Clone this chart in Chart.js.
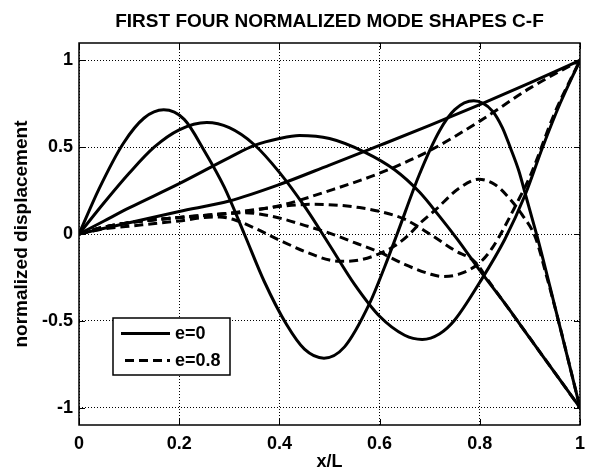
<!DOCTYPE html>
<html>
<head>
<meta charset="utf-8">
<script src="https://cdn.jsdelivr.net/npm/chart.js@4"></script>
<style>
  html, body { margin: 0; padding: 0; background: #fff; }
  #wrap { width: 593px; height: 473px; }
</style>
</head>
<body>
<div id="wrap"><canvas id="modos"></canvas></div>
<script>
// ejes y textos
const titulo = 'FIRST FOUR NORMALIZED MODE SHAPES C-F';
const xTicks = [0, 0.2, 0.4, 0.6, 0.8, 1];
const yTicks = [-1, -0.5, 0, 0.5, 1];
const legendLabels = ['e=0', 'e=0.8'];

// e=0 (lineas continuas)
const s1X = [0, 0.1, 0.2, 0.3, 0.4, 0.5, 0.6, 0.7, 0.8, 0.9, 1];
const s1Y = [0, 0.065, 0.13, 0.19, 0.285, 0.397, 0.51, 0.625, 0.745, 0.87, 1];
const s2X = [0, 0.05, 0.1, 0.2, 0.3, 0.35, 0.4, 0.44, 0.5, 0.57, 0.63, 0.68, 0.72, 0.755, 0.8, 0.85, 0.9, 0.95, 1];
const s2Y = [0, 0.075, 0.15, 0.29, 0.44, 0.51, 0.55, 0.567, 0.55, 0.472, 0.37, 0.24, 0.1, -0.03, -0.21, -0.4, -0.6, -0.8, -1];
const s3X = [0, 0.05, 0.1, 0.15, 0.2, 0.255, 0.3, 0.35, 0.4, 0.45, 0.5, 0.55, 0.6, 0.65, 0.685, 0.72, 0.75, 0.8, 0.85, 0.891, 0.925, 0.96, 1];
const s3Y = [0, 0.18, 0.35, 0.5, 0.6, 0.642, 0.612, 0.514, 0.355, 0.16, -0.063, -0.29, -0.474, -0.583, -0.607, -0.574, -0.495, -0.278, -0.03, 0.229, 0.497, 0.75, 1];
const s4X = [0, 0.04, 0.088, 0.13, 0.169, 0.21, 0.25, 0.29, 0.33, 0.37, 0.414, 0.45, 0.489, 0.53, 0.58, 0.61, 0.635, 0.679, 0.72, 0.75, 0.788, 0.825, 0.845, 0.861, 0.878, 0.891, 0.904, 0.915, 0.957, 1];
const s4Y = [0, 0.26, 0.52, 0.668, 0.715, 0.66, 0.48, 0.27, 0, -0.275, -0.52, -0.663, -0.715, -0.65, -0.4, -0.19, 0, 0.34, 0.596, 0.716, 0.767, 0.709, 0.613, 0.497, 0.363, 0.229, 0.094, -0.02, -0.5, -1];

// e=0.8 (lineas discontinuas)
const d1X = [0, 0.05, 0.1, 0.2, 0.3, 0.4, 0.5, 0.6, 0.7, 0.8, 0.9, 1];
const d1Y = [0, 0.04, 0.065, 0.095, 0.118, 0.163, 0.25, 0.35, 0.48, 0.65, 0.84, 1];
const d2X = [0, 0.05, 0.1, 0.2, 0.3, 0.35, 0.4, 0.464, 0.52, 0.56, 0.6, 0.65, 0.7, 0.75, 0.79, 0.82, 0.85, 0.9, 0.95, 1];
const d2Y = [0, 0.04, 0.065, 0.095, 0.12, 0.14, 0.158, 0.171, 0.165, 0.152, 0.13, 0.085, 0, -0.095, -0.16, -0.28, -0.4, -0.6, -0.8, -1];
const d3X = [0, 0.05, 0.1, 0.2, 0.3, 0.331, 0.36, 0.4, 0.45, 0.5, 0.55, 0.6, 0.65, 0.7, 0.725, 0.76, 0.8, 0.825, 0.878, 0.9, 0.95, 1];
const d3Y = [0, 0.04, 0.065, 0.095, 0.118, 0.123, 0.115, 0.092, 0.05, 0.005, -0.05, -0.105, -0.175, -0.23, -0.245, -0.23, -0.165, -0.08, 0.2, 0.33, 0.7, 1];
const d4X = [0, 0.05, 0.1, 0.165, 0.2, 0.25, 0.28, 0.31, 0.35, 0.4, 0.45, 0.5, 0.52, 0.56, 0.6, 0.632, 0.66, 0.68, 0.712, 0.758, 0.798, 0.83, 0.858, 0.884, 0.911, 0.934, 0.957, 1];
const d4Y = [0, 0.03, 0.045, 0.065, 0.075, 0.095, 0.098, 0.082, 0.035, -0.035, -0.1, -0.15, -0.157, -0.15, -0.113, -0.065, 0, 0.06, 0.14, 0.262, 0.315, 0.285, 0.209, 0.113, -0.02, -0.25, -0.5, -1];

const fuente = "'Liberation Sans', Arial, Helvetica, sans-serif";
const grosor = 3;
const guiones = [9, 5];

function puntos(xs, ys) {
    return xs.map((x, i) => ({ x: x, y: ys[i] }));
}

function curva(xs, ys, discontinua) {
    return {
        data: puntos(xs, ys),
        borderColor: '#000',
        borderWidth: grosor,
        borderDash: discontinua ? guiones : [],
        pointRadius: 0,
        fill: false,
        cubicInterpolationMode: 'monotone'
    };
}

// titulo, marco, marcas interiores y leyenda al estilo matlab
const marcoMatlab = {
    id: 'marcoMatlab',
    afterDatasetsDraw(chart) {
        const ctx = chart.ctx;
        const a = chart.chartArea;
        const sx = chart.scales.x;
        const sy = chart.scales.y;
        const largo = 6;
        ctx.save();

        // titulo centrado sobre el area de datos
        ctx.fillStyle = '#000';
        ctx.font = 'bold 19px ' + fuente;
        ctx.textAlign = 'center';
        ctx.textBaseline = 'alphabetic';
        ctx.fillText(titulo, (a.left + a.right) / 2, a.top - 16);

        ctx.strokeStyle = '#000';
        ctx.lineWidth = 1.5;
        ctx.setLineDash([]);
        ctx.strokeRect(a.left, a.top, a.right - a.left, a.bottom - a.top);
        ctx.lineWidth = 1;
        ctx.beginPath();
        xTicks.forEach((v) => {
            const px = Math.round(sx.getPixelForValue(v)) + 0.5;
            ctx.moveTo(px, a.bottom); ctx.lineTo(px, a.bottom - largo);
            ctx.moveTo(px, a.top); ctx.lineTo(px, a.top + largo);
        });
        yTicks.forEach((v) => {
            const py = Math.round(sy.getPixelForValue(v)) + 0.5;
            ctx.moveTo(a.left, py); ctx.lineTo(a.left + largo, py);
            ctx.moveTo(a.right, py); ctx.lineTo(a.right - largo, py);
        });
        ctx.stroke();

        // leyenda
        const bx = a.left + 34;
        const by = a.top + 275;
        const bw = 117;
        const bh = 57;
        ctx.fillStyle = '#fff';
        ctx.fillRect(bx, by, bw, bh);
        ctx.lineWidth = 1.5;
        ctx.strokeRect(bx, by, bw, bh);
        ctx.font = 'bold 18px ' + fuente;
        ctx.textBaseline = 'middle';
        ctx.textAlign = 'left';
        ctx.fillStyle = '#000';
        legendLabels.forEach((txt, i) => {
            const ly = by + 15.5 + i * 27;
            ctx.lineWidth = grosor;
            ctx.setLineDash(i === 0 ? [] : guiones);
            ctx.beginPath();
            ctx.moveTo(bx + (i === 0 ? 8 : 12), ly);
            ctx.lineTo(bx + 57, ly);
            ctx.stroke();
            ctx.setLineDash([]);
            ctx.fillText(txt, bx + 62, ly + 1);
        });
        ctx.restore();
    }
};

const ctx = document.getElementById('modos').getContext('2d');

new Chart(ctx, {
    type: 'line',
    data: {
        datasets: [
            curva(s1X, s1Y, false),
            curva(s2X, s2Y, false),
            curva(s3X, s3Y, false),
            curva(s4X, s4Y, false),
            curva(d1X, d1Y, true),
            curva(d2X, d2Y, true),
            curva(d3X, d3Y, true),
            curva(d4X, d4Y, true)
        ]
    },
    options: {
        responsive: true,
        maintainAspectRatio: false,
        animation: false,
        events: [],
        layout: { padding: { left: 0, right: 11, top: 43, bottom: 0 } },
        plugins: {
            legend: { display: false },
            tooltip: { enabled: false },
            title: { display: false }
        },
        scales: {
            x: {
                type: 'linear',
                min: 0,
                max: 1,
                afterBuildTicks: (s) => { s.ticks = xTicks.map((v) => ({ value: v })); },
                afterFit: (s) => { s.height = 48; },
                ticks: {
                    color: '#000',
                    font: { family: fuente, size: 18, weight: 'bold' },
                    padding: 8,
                    maxRotation: 0,
                    callback: (v) => String(v)
                },
                grid: { color: '#000', lineWidth: 1, drawTicks: false },
                border: { display: false, dash: [1, 2] },
                title: {
                    display: true,
                    text: 'x/L',
                    color: '#000',
                    font: { family: fuente, size: 18, weight: 'bold' },
                    padding: { top: 0, bottom: 0 }
                }
            },
            y: {
                type: 'linear',
                min: -1.1,
                max: 1.1,
                afterBuildTicks: (s) => { s.ticks = yTicks.map((v) => ({ value: v })); },
                afterFit: (s) => { s.width = 79; },
                ticks: {
                    color: '#000',
                    font: { family: fuente, size: 18, weight: 'bold' },
                    padding: 6,
                    callback: (v) => String(v)
                },
                grid: { color: '#000', lineWidth: 1, drawTicks: false },
                border: { display: false, dash: [1, 2] },
                title: {
                    display: true,
                    text: 'normalized displacement',
                    color: '#000',
                    font: { family: fuente, size: 19, weight: 'bold' },
                    padding: { top: 10, bottom: 0 }
                }
            }
        }
    },
    plugins: [marcoMatlab]
});
</script>
</body>
</html>
